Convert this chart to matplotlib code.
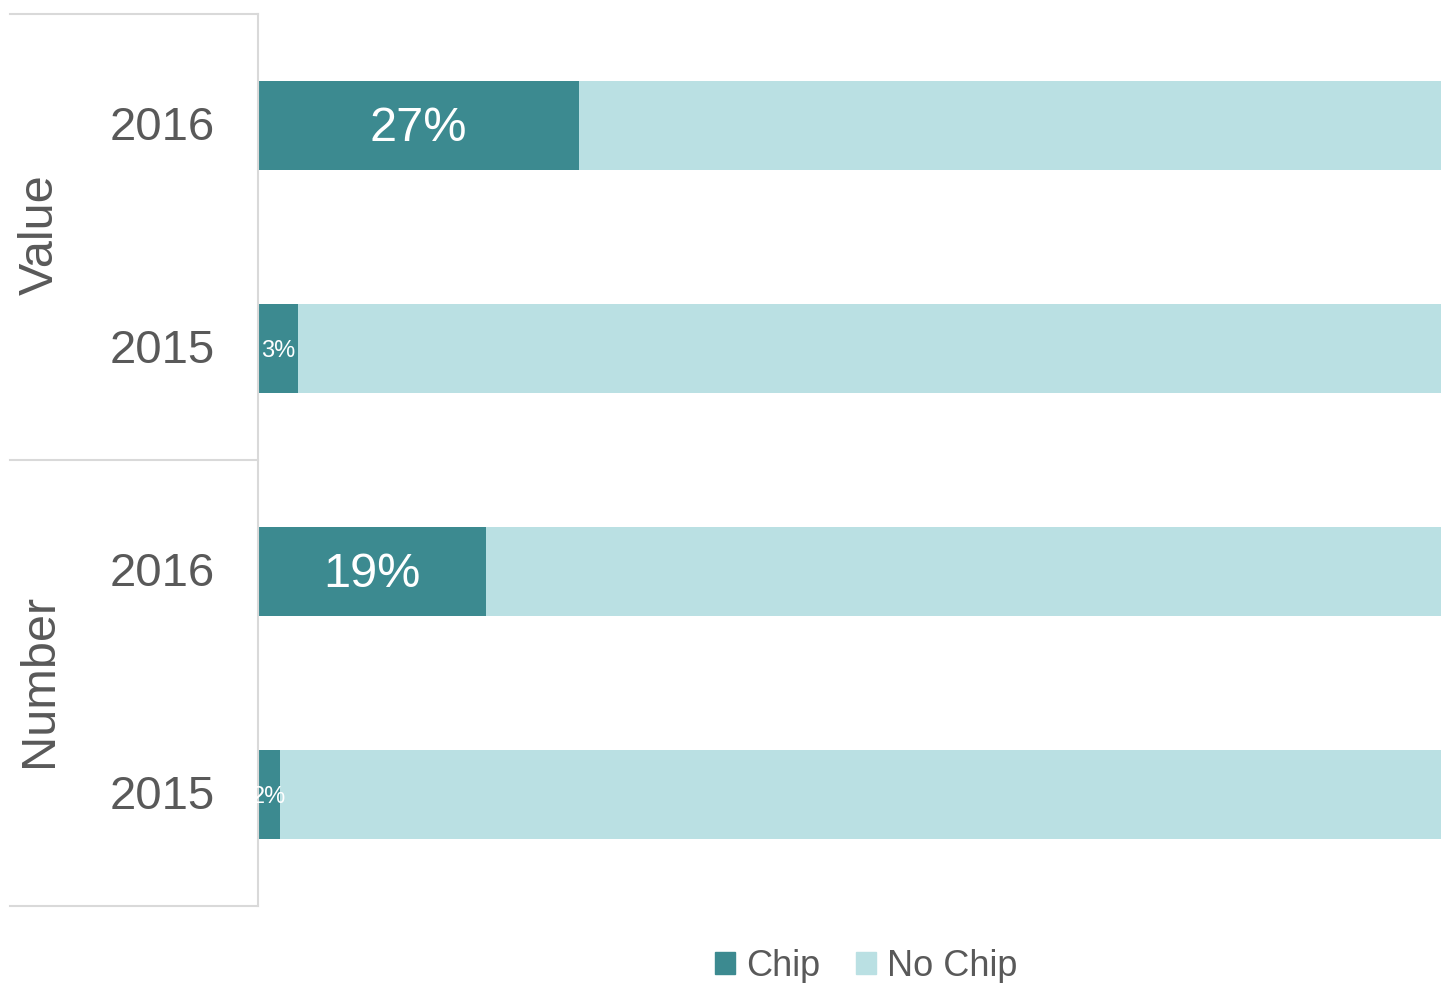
import matplotlib.pyplot as plt
from matplotlib.patches import Patch

plt.rcParams['font.family'] = ['Liberation Sans', 'DejaVu Sans']

groups = ["Value", "Number"]
years = ["2016", "2015", "2016", "2015"]
chip = [27.1, 3.4, 19.3, 1.9]
chip_labels = ["27%", "3%", "19%", "2%"]
label_sizes = [35, 17, 35, 17]
no_chip = [100 - c for c in chip]

c_chip = "#3C8A90"
c_nochip = "#BAE0E3"
grey = "#595959"
line_c = "#D9D9D9"

fig = plt.figure(figsize=(14.41, 9.83), dpi=100)
W, H = 1441, 983
ax = fig.add_axes([258 / W, 1 - 906 / H, (1441 - 258) / W, (906 - 14) / H])

ypos = list(range(len(years)))
ax.barh(ypos, chip, height=0.4, color=c_chip)
ax.barh(ypos, no_chip, left=chip, height=0.4, color=c_nochip)
dy = 0.012  # nudge text down a couple of pixels
for y, c, lab, fs in zip(ypos, chip, chip_labels, label_sizes):
    ax.text(c / 2, y + dy, lab, ha="center", va="center", color="white", fontsize=fs)

ax.set_xlim(0, 100)
ax.set_ylim(len(years) - 0.5, -0.5)
ax.set_xticks([])
ax.set_yticks([])
for s in ["top", "right", "bottom"]:
    ax.spines[s].set_visible(False)
ax.spines["left"].set_color(line_c)
ax.spines["left"].set_linewidth(1.5)

# category labels and group brackets
x_year = (215 - 258) / (1441 - 258)
for y, yr in zip(ypos, years):
    ax.text(x_year, y + dy, yr, transform=ax.get_yaxis_transform(), ha="right",
            va="center", fontsize=34, color=grey)

x_left = (10 - 258) / (1441 - 258)
for yb in [-0.5, 1.5, 3.5]:
    ax.plot([x_left, 0], [yb, yb], transform=ax.get_yaxis_transform(),
            color=line_c, lw=1.5, clip_on=False)

x_grp = (40 - 258) / (1441 - 258)
for i, g in enumerate(groups):
    ax.text(x_grp, 2 * i + 0.5 - 0.01, g, transform=ax.get_yaxis_transform(),
            ha="center", va="center", rotation=90, fontsize=35, color=grey)

handles = [Patch(color=c_chip, label="Chip"), Patch(color=c_nochip, label="No Chip")]
leg = fig.legend(handles=handles, loc="center", bbox_to_anchor=(866 / W, 1 - 966 / H),
                 ncol=2, frameon=False, fontsize=26, handlelength=0.55, handleheight=0.55,
                 handletextpad=0.3, columnspacing=1.0)
for t in leg.get_texts():
    t.set_color(grey)

fig.savefig("out.png", dpi=100)
